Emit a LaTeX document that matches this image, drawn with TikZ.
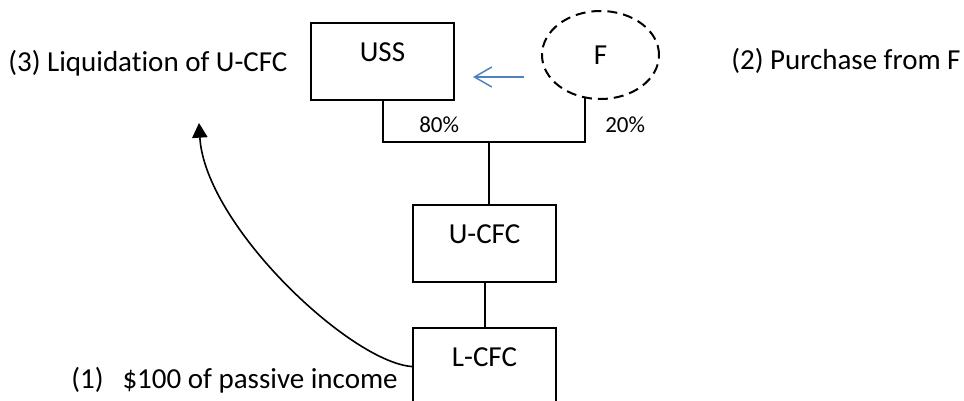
\documentclass[tikz,border=0pt]{standalone}
\usepackage{fontspec}
\setmainfont{Carlito}[Ligatures={NoCommon,NoContextual}]
\usetikzlibrary{arrows.meta,shapes.geometric}
\definecolor{flowblue}{RGB}{79,129,189}
\begin{document}
\begin{tikzpicture}[x=0.75pt,y=-0.75pt,
  entity/.style={draw, line width=1.5pt, inner sep=0pt, minimum width=107.25pt,
    text height=28.9pt, text depth=28.9pt, anchor=north west,
    font=\fontsize{21.75}{26}\selectfont},
  partner/.style={draw, ellipse, dash pattern=on 7.5pt off 4.5pt, line width=1.5pt,
    inner sep=0pt, minimum width=87.75pt, minimum height=66pt,
    font=\fontsize{21.75}{26}\selectfont},
  note/.style={anchor=base west, inner sep=0pt, font=\fontsize{21.75}{26}\selectfont},
  share/.style={anchor=base west, inner sep=0pt, font=\fontsize{17.25}{20}\selectfont},
  owns/.style={line width=1.5pt},
  flow/.style={line width=1.2pt, -{Triangle[length=11pt,width=11.5pt]}},
  buy/.style={flowblue, line width=1.1pt, -{Straight Barb[length=13pt,width=15pt]}}
]
\useasboundingbox (0,0) rectangle (964,400);

% entities
\node[entity] (uss)  at (310,22)  {USS};
\node[entity] (ucfc) at (412,204) {U-CFC};
\node[entity] (lcfc) at (412,327) {L-CFC};
\node[partner] (f) at (600.5,55) {F};

% ownership lines
\coordinate (bus) at (489,142);
\draw[owns] (uss.south) |- (bus) -| (f.-110);
\draw[owns] (bus) -- (bus |- ucfc.north);
\draw[owns] (ucfc) -- (lcfc);

\node[share] (p80) at (419,132) {80\%};
\node[share] (p20) at (605,132) {20\%};

% purchase of the F interest
\coordinate (buyfrom) at (524,77);
\coordinate (buyto) at (473,77);
\draw[buy] (buyfrom) -- (buyto);

% income path to the liquidation
\coordinate (liqtip) at (199,123);
\draw[flow] (lcfc.west) .. controls (350,362) and (205,225) .. (liqtip);

% step labels
\node[note] (liq) at (8,71) {(3) Liquidation of U-CFC};
\node[note] (purch) at (731,69) {(2) Purchase from F};
\node[note] (income) at (71,388) {(1)\hspace{14.25pt}\$100 of passive income};
\end{tikzpicture}
\end{document}
